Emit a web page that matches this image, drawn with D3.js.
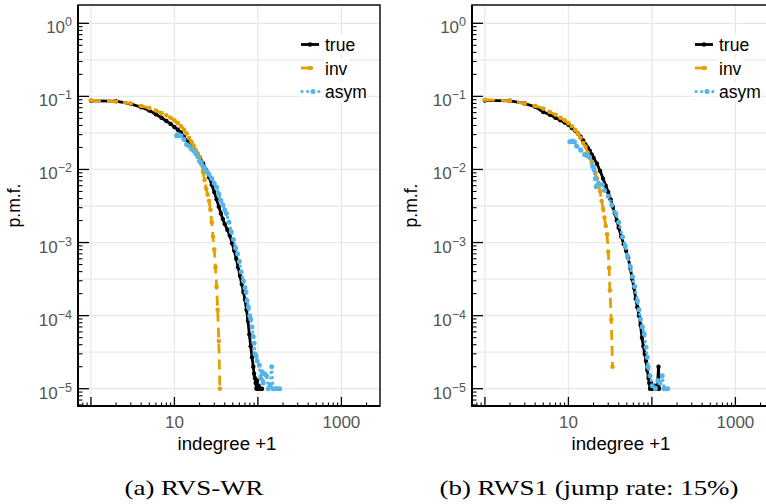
<!DOCTYPE html>
<html><head><meta charset="utf-8">
<script src="https://cdn.jsdelivr.net/npm/d3@7"></script>
<style>body{margin:0;background:#fff} svg{display:block}</style>
</head><body>
<svg id="c" width="766" height="504"></svg>
<script>
// ---------- data ----------
const seriesNames = ["true", "inv", "asym"];
const seriesColors = ["#000000", "#E69F00", "#56B4E9"];
const xTickLabels = [10, 1000];
const yTickExponents = [0, -1, -2, -3, -4, -5];
const captions = ["(a) RVS-WR", "(b) RWS1 (jump rate: 15%)"];

// Panel (a) RVS-WR
const aTrueX = [1,2,3,4,5,6,7,8,9,10,11,12,13,14,15,16,17,18,19,20,22,24,26,28,30,32,34,36,38,40,43,46,49,52,55,58,61,64,67,70,73,76,79,82,85,88,90,92,94,96,98,100,102,105,108,112];
const aTrueY = [0.087,0.086,0.079,0.071,0.064,0.057,0.051,0.046,0.042,0.038,0.035,0.032,0.028,0.025,0.023,0.021,0.019,0.0175,0.016,0.0148,0.0122,0.0098,0.0078,0.0062,0.0049,0.0039,0.0031,0.0025,0.0021,0.0018,0.0015,0.00125,0.00098,0.00078,0.0006,0.00046,0.00035,0.00027,0.00021,0.000165,0.00012,0.000085,0.000055,0.000038,0.000027,0.00002,0.000016,0.000014,0.000012,0.00001,0.000013,0.00001,0.000011,0.00001,0.00001,0.00001];
const aInvX = [1,2,3,4,5,6,7,8,9,10,11,12,13,14,15,16,17,18,19,20,21,22,23,24,25,26,27,28,29,30,31,32,33,34,35];
const aInvY = [0.088,0.085,0.08,0.074,0.069,0.064,0.059,0.055,0.051,0.047,0.043,0.039,0.035,0.031,0.027,0.024,0.021,0.0185,0.0165,0.0148,0.0118,0.0092,0.0072,0.0055,0.0045,0.0037,0.0028,0.0019,0.0012,0.0008,0.00046,0.00025,0.00012,0.000045,0.00001];
const aAsymX = [10.6,11,11.6,12,13,14,15,16,17,18,19,20,21,22,23,24,25,26,28,30,32,34,36,38,40,42,45,48,51,54,57,60,63,67,70,72,74,77,80,82,85,88,90,92,95,98,104,108,112,115,120,127,133,140,146,152,160,170,183];
const aAsymY = [0.029,0.03,0.029,0.029,0.026,0.022,0.021,0.019,0.018,0.0165,0.015,0.013,0.0125,0.011,0.0105,0.0095,0.009,0.0085,0.0075,0.0065,0.0057,0.0046,0.0038,0.0033,0.0028,0.0025,0.0019,0.0014,0.0011,0.00085,0.0007,0.00055,0.0004,0.0003,0.00024,0.00021,0.00016,0.00013,0.0001,0.00009,0.00007,0.000052,0.000042,0.00003,0.000028,0.000024,0.000021,0.000014,0.000017,0.000012,0.000016,0.000015,0.00001,0.000011,0.00002,0.00001,0.00001,0.00001,0.00001];

// Panel (b) RWS1
const bTrueX = [1,2,3,4,5,6,7,8,9,10,11,12,13,14,15,16,17,18,19,20,22,24,26,28,30,32,34,36,38,40,43,46,49,52,55,58,61,64,67,70,73,76,79,82,85,88,91,93,95,98,100,104,108,112,116,120,122];
const bTrueY = [0.088,0.087,0.08,0.072,0.061,0.056,0.051,0.047,0.044,0.041,0.037,0.034,0.031,0.028,0.025,0.022,0.02,0.018,0.016,0.0145,0.012,0.0095,0.0075,0.006,0.0049,0.0039,0.0031,0.0025,0.002,0.0016,0.0012,0.00095,0.00077,0.00062,0.00045,0.00032,0.00024,0.00017,0.00013,0.0001,0.000075,0.00005,0.000038,0.00003,0.000024,0.000018,0.000014,0.000012,0.00001,0.000012,0.00001,0.00001,0.000011,0.00001,0.00001,0.00002,0.00001];
const bInvX = [1,2,3,4,5,6,7,8,9,10,11,12,13,14,15,16,17,18,19,20,21,22,23,24,25,26,27,28,29,30,30.7,31.4,32.6,33.7];
const bInvY = [0.09,0.087,0.08,0.074,0.068,0.061,0.056,0.051,0.047,0.043,0.039,0.035,0.031,0.027,0.023,0.0205,0.017,0.0145,0.0125,0.0108,0.0091,0.0075,0.0062,0.005,0.0037,0.0029,0.0022,0.0017,0.0013,0.00075,0.00045,0.00022,0.000088,0.00002];
const bAsymX = [10.4,10.8,11.2,11.8,12.5,14,15.6,16.5,17.7,19.5,20.3,21,21.5,23,25.5,27,30,33,37,40,44.5,48,51,55,58.5,62,67,70,73,77,81,85,88,90,95,101,110,118,125,133,140,146,155];
const bAsymY = [0.024,0.024,0.0245,0.024,0.021,0.0185,0.016,0.0155,0.015,0.011,0.0099,0.0075,0.0058,0.0065,0.0062,0.0052,0.0043,0.0033,0.0025,0.0019,0.0012,0.0009,0.00065,0.00047,0.00034,0.00025,0.00016,0.00012,0.00009,0.00007,0.000056,0.000037,0.000027,0.00002,0.000015,0.000011,0.00001,0.000013,0.000012,0.000015,0.00001,0.00001,0.00001];

// ---------- drawing ----------
const svg = d3.select("#c");
const panelData = [
  [[aTrueX, aTrueY], [aInvX, aInvY], [aAsymX, aAsymY]],
  [[bTrueX, bTrueY], [bInvX, bInvY], [bAsymX, bAsymY]]
];
const panelOffsets = [0, 394];
const captionCenters = [194, 589];
const captionLens = [139, 299];

const X0 = 78, X1 = 380, Y0 = 5, Y1 = 406;
const x = d3.scaleLog().domain([0.7, 2900]).range([X0, X1]);
const y = d3.scaleLog().domain([1.78, 5.8e-6]).range([Y0, Y1]);

const xMinor = [], xMajor = [];
for (let k = -1; k <= 3; k++) for (let m = 1; m <= 9; m++) {
  const v = m * Math.pow(10, k);
  if (v >= 0.7 && v <= 2900) (m === 1 ? xMajor : xMinor).push(v);
}
const yMinor = [], yMajor = [];
for (let k = -6; k <= 0; k++) for (let m = 1; m <= 9; m++) {
  const v = m * Math.pow(10, k);
  if (v >= 5.8e-6 && v <= 1.78) (m === 1 ? yMajor : yMinor).push(v);
}
const yGrid = [];
for (let e = 0; e >= -5; e -= 0.5) yGrid.push(Math.pow(10, e));

const styles = [
  {w: 2.8, dash: null, cap: "butt", r: 2.2},
  {w: 2.8, dash: "10,6", cap: "butt", r: 2.3},
  {w: 3.2, dash: "0.1,5.5", cap: "round", r: 2.5}
];

panelOffsets.forEach((ox, pi) => {
  const g = svg.append("g").attr("transform", `translate(${ox},0)`);
  const clipId = "clip" + pi;
  g.append("clipPath").attr("id", clipId).append("rect")
    .attr("x", X0).attr("y", Y0).attr("width", X1 - X0).attr("height", Y1 - Y0);

  // grid
  g.append("g").selectAll("line").data(xMajor).join("line")
    .attr("x1", d => x(d)).attr("x2", d => x(d)).attr("y1", Y0).attr("y2", Y1)
    .attr("stroke", "#e8e8e8").attr("stroke-width", 1.3);
  g.append("g").selectAll("line").data(yGrid).join("line")
    .attr("y1", d => y(d)).attr("y2", d => y(d)).attr("x1", X0).attr("x2", X1)
    .attr("stroke", "#e8e8e8").attr("stroke-width", 1.3);

  // series
  const plot = g.append("g").attr("clip-path", `url(#${clipId})`);
  panelData[pi].forEach(([xs, ys], si) => {
    const pts = xs.map((v, i) => [v, ys[i]]);
    const st = styles[si];
    plot.append("path").datum(pts)
      .attr("d", d3.line().x(d => x(d[0])).y(d => y(d[1])))
      .attr("fill", "none").attr("stroke", seriesColors[si])
      .attr("stroke-width", st.w).attr("stroke-linecap", st.cap)
      .attr("stroke-linejoin", "round")
      .attr("stroke-dasharray", st.dash);
    plot.append("g").selectAll("circle").data(pts).join("circle")
      .attr("cx", d => x(d[0])).attr("cy", d => y(d[1])).attr("r", st.r)
      .attr("fill", seriesColors[si]);
  });

  // frame
  g.append("rect").attr("x", X0).attr("y", Y0).attr("width", X1 - X0).attr("height", Y1 - Y0)
    .attr("fill", "none").attr("stroke", "#000").attr("stroke-width", 1.4);
  g.append("line").attr("x1", X0).attr("x2", X0).attr("y1", Y0).attr("y2", Y1 + 1)
    .attr("stroke", "#000").attr("stroke-width", 2);
  g.append("line").attr("x1", X0 - 1).attr("x2", X1).attr("y1", Y1).attr("y2", Y1)
    .attr("stroke", "#000").attr("stroke-width", 2);

  // x ticks (inward)
  g.append("g").selectAll("line").data(xMinor).join("line")
    .attr("x1", d => x(d)).attr("x2", d => x(d)).attr("y1", Y1).attr("y2", Y1 - 3.5)
    .attr("stroke", "#000").attr("stroke-width", 1.1);
  g.append("g").selectAll("line").data(xMajor).join("line")
    .attr("x1", d => x(d)).attr("x2", d => x(d)).attr("y1", Y1).attr("y2", Y1 - 9)
    .attr("stroke", "#000").attr("stroke-width", 1.3);
  // y ticks (inward)
  g.append("g").selectAll("line").data(yMinor).join("line")
    .attr("y1", d => y(d)).attr("y2", d => y(d)).attr("x1", X0).attr("x2", X0 + 4.5)
    .attr("stroke", "#000").attr("stroke-width", 1.1);
  g.append("g").selectAll("line").data(yMajor).join("line")
    .attr("y1", d => y(d)).attr("y2", d => y(d)).attr("x1", X0).attr("x2", X0 + 11)
    .attr("stroke", "#000").attr("stroke-width", 1.3);

  // tick labels
  const font = "'Liberation Sans', Arial, Helvetica, sans-serif";
  g.append("g").selectAll("text").data(xTickLabels).join("text")
    .attr("x", d => x(d)).attr("y", 427.5).attr("text-anchor", "middle")
    .attr("font-family", font).attr("font-size", 17).attr("fill", "#555")
    .text(d => d);
  const yl = g.append("g").selectAll("text").data(yTickExponents).join("text")
    .attr("x", X0 - 6).attr("y", d => y(Math.pow(10, d)) + 10).attr("text-anchor", "end")
    .attr("font-family", font).attr("font-size", 17).attr("fill", "#555");
  yl.append("tspan").text("10");
  yl.append("tspan").attr("dy", -7).attr("font-size", 12.5)
    .text(d => d === 0 ? "0" : "\u2212" + Math.abs(d));

  // axis titles
  g.append("text").attr("x", (X0 + X1) / 2 - 2).attr("y", 449.5).attr("text-anchor", "middle")
    .attr("font-family", font).attr("font-size", 17.5).attr("fill", "#000")
    .attr("textLength", 99).attr("lengthAdjust", "spacingAndGlyphs")
    .text("indegree +1");
  g.append("text").attr("transform", `translate(${20 + (pi ? 3 : 0)},${(Y0 + Y1) / 2}) rotate(-90)`)
    .attr("text-anchor", "middle").attr("font-family", font).attr("font-size", 17.5)
    .attr("fill", "#000").text("p.m.f.");

  // legend
  const lg = g.append("g");
  const rowsY = [44.5, 68, 91.5];
  seriesNames.forEach((name, si) => {
    const ry = rowsY[si];
    const st = styles[si];
    lg.append("rect").attr("x", 298).attr("y", ry - 5).attr("width", 25).attr("height", 10).attr("fill", "#fff");
    const t = lg.append("text").attr("x", 325).attr("y", ry + 6.5)
      .attr("font-family", font).attr("font-size", 17.5).attr("fill", "#000").text(name);
    const bb = t.node().getBBox();
    lg.insert("rect", "text").attr("x", bb.x - 1).attr("y", bb.y).attr("width", bb.width + 2).attr("height", bb.height).attr("fill", "#fff");
    const x2 = si === 1 ? 313 : 319;
    lg.append("line").attr("x1", si === 2 ? 302 : 301).attr("x2", x2).attr("y1", ry).attr("y2", ry)
      .attr("stroke", seriesColors[si]).attr("stroke-width", st.w)
      .attr("stroke-linecap", st.cap).attr("stroke-dasharray", si === 2 ? "0.1,5.5" : null);
    lg.append("circle").attr("cx", si === 2 ? 313 : 310).attr("cy", ry).attr("r", st.r).attr("fill", seriesColors[si]);
  });

  // caption
  svg.append("text").attr("x", captionCenters[pi]).attr("y", 495).attr("text-anchor", "middle")
    .attr("font-family", "'Liberation Serif', 'Times New Roman', serif").attr("font-size", 22)
    .attr("textLength", captionLens[pi]).attr("lengthAdjust", "spacingAndGlyphs")
    .attr("fill", "#000").text(captions[pi]);
});
</script>
</body></html>
